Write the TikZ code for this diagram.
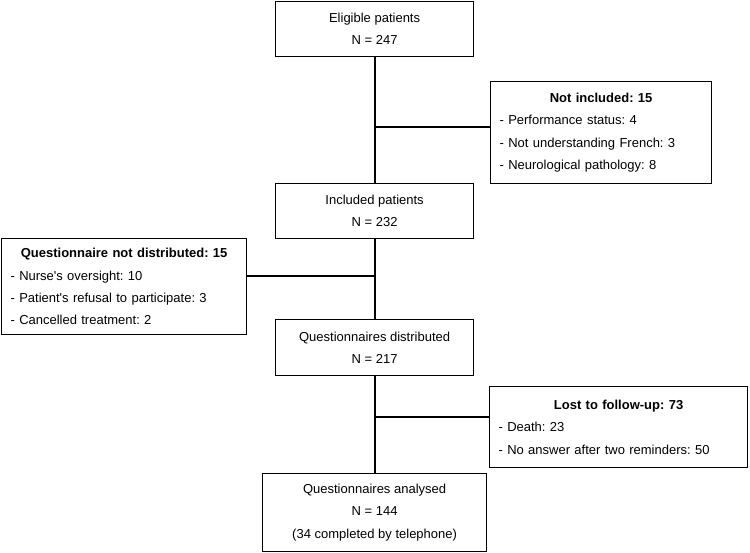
\documentclass[tikz,border=0pt]{standalone}
\usepackage{fontspec}
\setmainfont{Liberation Sans}
\frenchspacing
\newcommand{\boxfont}{\fontsize{13}{22.3}\selectfont}
\begin{document}
\begin{tikzpicture}[x=1pt,y=-1pt,
  box/.style={draw, line width=1.2pt, inner sep=0pt, anchor=north west, align=center, font=\boxfont},
  listbox/.style={draw, line width=1.2pt, inner xsep=9pt, inner ysep=0pt, anchor=north west, align=left, font=\boxfont},
  trunk/.style={line width=2pt},
  branch/.style={line width=1.3pt}]
\useasboundingbox (0,0) rectangle (750,553);
\node[box, minimum width=198pt, minimum height=55pt] (elig) at (275,0.6) {Eligible patients\\N = 247};
\node[box, minimum width=198pt, minimum height=55pt] (incl) at (275,183) {Included patients\\N = 232};
\node[box, minimum width=198pt, minimum height=56pt] (dist) at (275,319) {Questionnaires distributed\\N = 217};
\node[box, minimum width=224pt, minimum height=78pt] (anal) at (262,473) {Questionnaires analysed\\N = 144\\(34 completed by telephone)};
\node[listbox, text width=203pt, minimum height=102pt] (notinc) at (490,81)
  {\hbox to\hsize{\hfil\textbf{Not included: 15}\hfil}\\- Performance status: 4\\- Not understanding French: 3\\- Neurological pathology: 8};
\node[listbox, text width=227pt, minimum height=96pt] (notdist) at (1,238)
  {\hbox to\hsize{\hfil\textbf{Questionnaire not distributed: 15}\hfil}\\- Nurse\textquotesingle s oversight: 10\\- Patient\textquotesingle s refusal to participate: 3\\- Cancelled treatment: 2};
\node[listbox, text width=240pt, minimum height=81pt] (lost) at (489,386)
  {\hbox to\hsize{\hfil\textbf{Lost to follow-up: 73}\hfil}\\- Death: 23\\- No answer after two reminders: 50};
\draw[trunk] (elig.south) -- (incl.north);
\draw[trunk] (incl.south) -- (dist.north);
\draw[trunk] (dist.south) -- (anal.north);
\coordinate (b1) at (374,127);
\coordinate (b2) at (374,276);
\coordinate (b3) at (374,417);
\draw[branch] (b1) -- (b1 -| notinc.west);
\draw[branch] (b2) -- (b2 -| notdist.east);
\draw[branch] (b3) -- (b3 -| lost.west);
\end{tikzpicture}
\end{document}
